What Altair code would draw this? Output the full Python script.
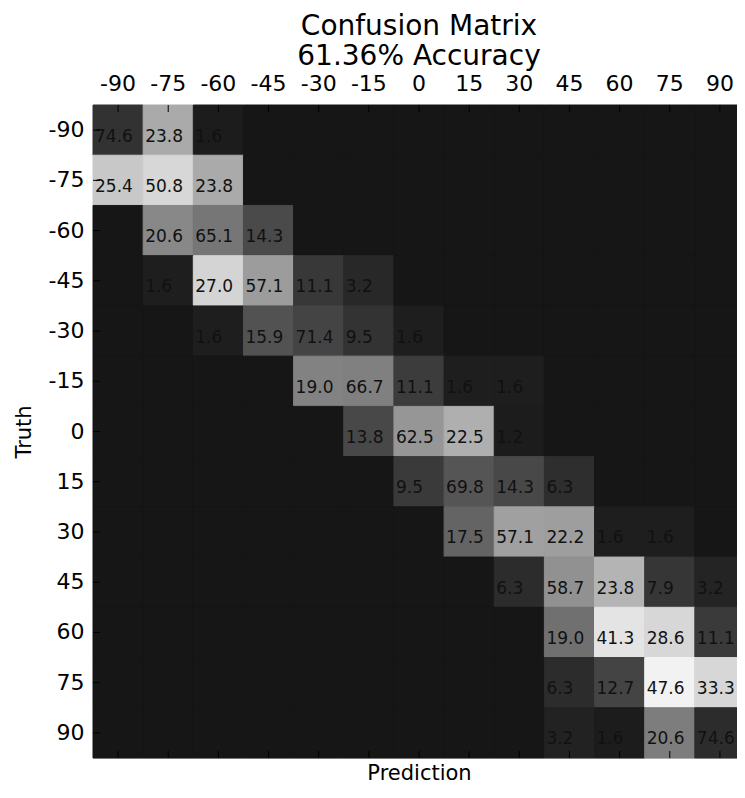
import altair as alt
import pandas as pd

labels = [-90, -75, -60, -45, -30, -15, 0, 15, 30, 45, 60, 75, 90]

# percentage shown in each cell (row = truth, column = prediction); 0 = no text
pct_rows = [
    [74.6, 23.8, 1.6, 0, 0, 0, 0, 0, 0, 0, 0, 0, 0],
    [25.4, 50.8, 23.8, 0, 0, 0, 0, 0, 0, 0, 0, 0, 0],
    [0, 20.6, 65.1, 14.3, 0, 0, 0, 0, 0, 0, 0, 0, 0],
    [0, 1.6, 27.0, 57.1, 11.1, 3.2, 0, 0, 0, 0, 0, 0, 0],
    [0, 0, 1.6, 15.9, 71.4, 9.5, 1.6, 0, 0, 0, 0, 0, 0],
    [0, 0, 0, 0, 19.0, 66.7, 11.1, 1.6, 1.6, 0, 0, 0, 0],
    [0, 0, 0, 0, 0, 13.8, 62.5, 22.5, 1.2, 0, 0, 0, 0],
    [0, 0, 0, 0, 0, 0, 9.5, 69.8, 14.3, 6.3, 0, 0, 0],
    [0, 0, 0, 0, 0, 0, 0, 17.5, 57.1, 22.2, 1.6, 1.6, 0],
    [0, 0, 0, 0, 0, 0, 0, 0, 6.3, 58.7, 23.8, 7.9, 3.2],
    [0, 0, 0, 0, 0, 0, 0, 0, 0, 19.0, 41.3, 28.6, 11.1],
    [0, 0, 0, 0, 0, 0, 0, 0, 0, 6.3, 12.7, 47.6, 33.3],
    [0, 0, 0, 0, 0, 0, 0, 0, 0, 3.2, 1.6, 20.6, 74.6],
]

# gray level of each cell as it appears in the picture (0 = black, 255 = white)
B = 22
shade_rows = [
    [50, 170, 28, B, B, B, B, B, B, B, B, B, B],
    [200, 215, 170, B, B, B, B, B, B, B, B, B, B],
    [B, 136, 118, 74, B, B, B, B, B, B, B, B, B],
    [B, 30, 212, 156, 56, 40, B, B, B, B, B, B, B],
    [B, B, 30, 82, 68, 51, 30, B, B, B, B, B, B],
    [B, B, B, B, 130, 128, 60, 30, 30, B, B, B, B],
    [B, B, B, B, B, 72, 150, 175, 28, B, B, B, B],
    [B, B, B, B, B, B, 58, 85, 72, 46, B, B, B],
    [B, B, B, B, B, B, B, 100, 160, 158, 30, 30, B],
    [B, B, B, B, B, B, B, B, 44, 145, 180, 54, 36],
    [B, B, B, B, B, B, B, B, B, 112, 228, 215, 58],
    [B, B, B, B, B, B, B, B, B, 44, 68, 242, 215],
    [B, B, B, B, B, B, B, B, B, 34, 28, 125, 44],
]

title_lines = ["Confusion Matrix", "61.36% Accuracy"]

records = []
for i, t in enumerate(labels):
    for j, p in enumerate(labels):
        records.append({"truth": t, "pred": p, "pct": pct_rows[i][j], "shade": shade_rows[i][j]})
df = pd.DataFrame(records)
lab_df = pd.DataFrame({"lab": labels})

W, H = 652, 653
FONT = "DejaVu Sans"
gray = alt.Scale(domain=[0, 255], range=["#000000", "#ffffff"], interpolate="rgb")
cw = W / len(labels)

xenc = alt.X("pred:O", sort=labels, scale=alt.Scale(paddingInner=0, paddingOuter=0),
             axis=alt.Axis(orient="top", labelAngle=0, labelFontSize=22, labelFont=FONT,
                           labelColor="black", ticks=False, domain=False, grid=False,
                           labelBaseline="alphabetic", labelPadding=15,
                           title="Prediction", titleFont=FONT, titleFontSize=21,
                           titleFontWeight="normal", titleColor="black",
                           titleBaseline="alphabetic", titleY=H + 21))
yenc = alt.Y("truth:O", sort=labels, scale=alt.Scale(paddingInner=0, paddingOuter=0),
             axis=alt.Axis(orient="left", labelFontSize=22, labelFont=FONT, labelColor="black",
                           ticks=False, domain=False, grid=False, labelPadding=9,
                           title="Truth", titleFont=FONT, titleFontSize=21,
                           titleFontWeight="normal", titleColor="black",
                           titleBaseline="middle", titleX=-69, titleY=H / 2))

backdrop = alt.Chart(lab_df).mark_rect(color="#161616").encode(
    x=alt.value(0), x2=alt.value(W), y=alt.value(0), y2=alt.value(H))

cells = alt.Chart(df).mark_rect(strokeWidth=1).encode(
    x=xenc, y=yenc,
    color=alt.Color("shade:Q", scale=gray, legend=None),
    stroke=alt.Stroke("shade:Q", scale=gray, legend=None),
)

texts = alt.Chart(df).transform_filter("datum.pct > 0").mark_text(
    align="left", baseline="alphabetic", dx=-cw / 2 + 2, dy=11.5, fontSize=17, font=FONT,
    color="#111111"
).encode(
    x=alt.X("pred:O", sort=labels),
    y=alt.Y("truth:O", sort=labels),
    text=alt.Text("pct:Q", format=".1f"),
)

TL = 7
top_ticks = alt.Chart(lab_df).mark_rule(color="black", strokeWidth=1).encode(
    x=alt.X("lab:O", sort=labels), y=alt.value(0), y2=alt.value(TL))
bot_ticks = alt.Chart(lab_df).mark_rule(color="black", strokeWidth=1).encode(
    x=alt.X("lab:O", sort=labels), y=alt.value(H - TL), y2=alt.value(H))
left_ticks = alt.Chart(lab_df).mark_rule(color="black", strokeWidth=1).encode(
    y=alt.Y("lab:O", sort=labels), x=alt.value(0), x2=alt.value(TL))
right_ticks = alt.Chart(lab_df).mark_rule(color="black", strokeWidth=1).encode(
    y=alt.Y("lab:O", sort=labels), x=alt.value(W - TL), x2=alt.value(W))

chart = alt.layer(backdrop, cells, texts, top_ticks, bot_ticks, left_ticks, right_ticks).properties(
    width=W, height=H,
    title=alt.TitleParams(text=title_lines, fontSize=28, font=FONT, fontWeight="normal",
                          color="black", anchor="middle", frame="group", offset=1, lineHeight=30),
    autosize=alt.AutoSizeParams(type="none"),
    padding={"left": 85, "top": 97, "right": 729 - 85 - W, "bottom": 26},
).configure_view(stroke="#555555", strokeWidth=1.5, fill="#161616").configure(background="white")

chart.save("out.html", embed_options={"renderer": "svg", "actions": False})
